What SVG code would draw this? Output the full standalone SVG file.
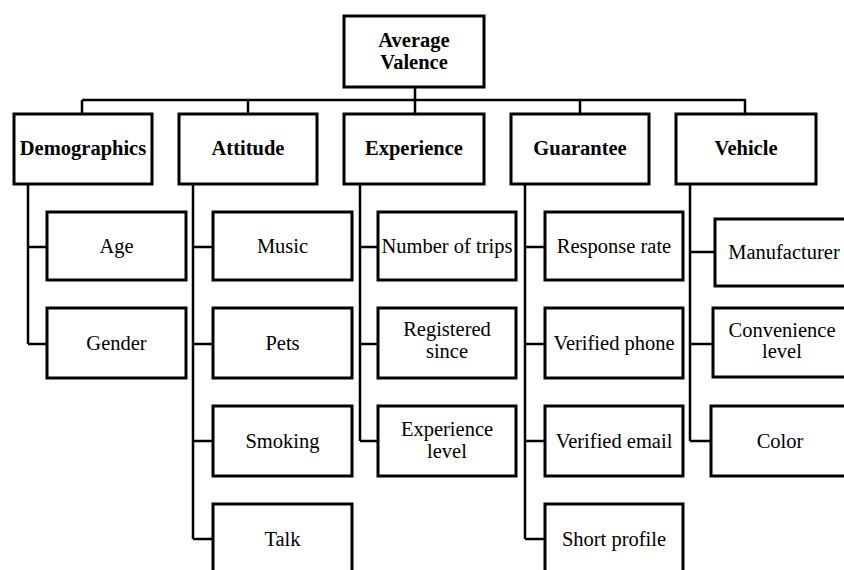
<svg xmlns="http://www.w3.org/2000/svg" width="844" height="570" viewBox="0 0 844 570">
<style>
.box{fill:#fff;stroke:#000;stroke-width:3}
.con{fill:none;stroke:#000;stroke-width:2.5}
text{font-family:'Liberation Serif','Tinos','Times New Roman','DejaVu Serif','Noto Serif',serif;font-size:20.5px;fill:#000;text-anchor:middle}
.b{font-weight:bold}
</style>
<rect width="844" height="570" fill="#fff"/>
<g id="connectors" class="con">
<path d="M415,87V100M82,100H746M82,100V114M248,100V114M415,100V114M580,100V114M745,100V114"/>
<path d="M28,184V344M28,247H47M28,344H47"/>
<path d="M193,184V539M193,247H213M193,344H213M193,441H213M193,539H213"/>
<path d="M360,184V441M360,247H378M360,344H378M360,441H378"/>
<path d="M525,184V539M525,247H545M525,344H545M525,441H545M525,539H545"/>
<path d="M690,184V441M690,252H715M690,344H713M690,441H711"/>
</g>
<g id="root"><rect class="box" x="344" y="16" width="140" height="71"/><text class="b" x="414" y="47" font-family="Liberation Serif, serif">Average</text><text class="b" x="414" y="69" font-family="Liberation Serif, serif">Valence</text></g>
<g id="demographics"><rect class="box" x="14" y="114" width="138" height="70"/><text class="b" x="83" y="155">Demographics</text></g>
<g id="attitude"><rect class="box" x="179" y="114" width="138" height="70"/><text class="b" x="248" y="155">Attitude</text></g>
<g id="experience"><rect class="box" x="344" y="114" width="140" height="70"/><text class="b" x="414" y="155">Experience</text></g>
<g id="guarantee"><rect class="box" x="511" y="114" width="138" height="70"/><text class="b" x="580" y="155">Guarantee</text></g>
<g id="vehicle"><rect class="box" x="676" y="114" width="140" height="70"/><text class="b" x="746" y="155">Vehicle</text></g>
<g id="age"><rect class="box" x="47" y="212" width="139" height="68"/><text x="116.5" y="253">Age</text></g>
<g id="gender"><rect class="box" x="47" y="308" width="139" height="70"/><text x="116.5" y="350">Gender</text></g>
<g id="music"><rect class="box" x="213" y="212" width="139" height="68"/><text x="282.5" y="253">Music</text></g>
<g id="pets"><rect class="box" x="213" y="308" width="139" height="70"/><text x="282.5" y="350">Pets</text></g>
<g id="smoking"><rect class="box" x="213" y="406" width="139" height="70"/><text x="282.5" y="448">Smoking</text></g>
<g id="talk"><rect class="box" x="213" y="504" width="139" height="72"/><text x="282.5" y="546">Talk</text></g>
<g id="trips"><rect class="box" x="378" y="212" width="138" height="68"/><text x="447" y="253">Number of trips</text></g>
<g id="registered"><rect class="box" x="378" y="308" width="138" height="70"/><text x="447" y="336">Registered</text><text x="447" y="358">since</text></g>
<g id="explevel"><rect class="box" x="378" y="406" width="138" height="70"/><text x="447" y="436">Experience</text><text x="447" y="458">level</text></g>
<g id="response"><rect class="box" x="545" y="212" width="138" height="68"/><text x="614" y="253">Response rate</text></g>
<g id="phone"><rect class="box" x="545" y="308" width="138" height="70"/><text x="614" y="350">Verified phone</text></g>
<g id="email"><rect class="box" x="545" y="406" width="138" height="70"/><text x="614" y="448">Verified email</text></g>
<g id="profile"><rect class="box" x="545" y="504" width="138" height="72"/><text x="614" y="546">Short profile</text></g>
<g id="manufacturer"><rect class="box" x="715" y="219" width="140" height="67"/><text x="784" y="259">Manufacturer</text></g>
<g id="convenience"><rect class="box" x="713" y="308" width="140" height="69"/><text x="782" y="337">Convenience</text><text x="782" y="358">level</text></g>
<g id="color"><rect class="box" x="711" y="406" width="140" height="70"/><text x="780" y="448">Color</text></g>
</svg>
